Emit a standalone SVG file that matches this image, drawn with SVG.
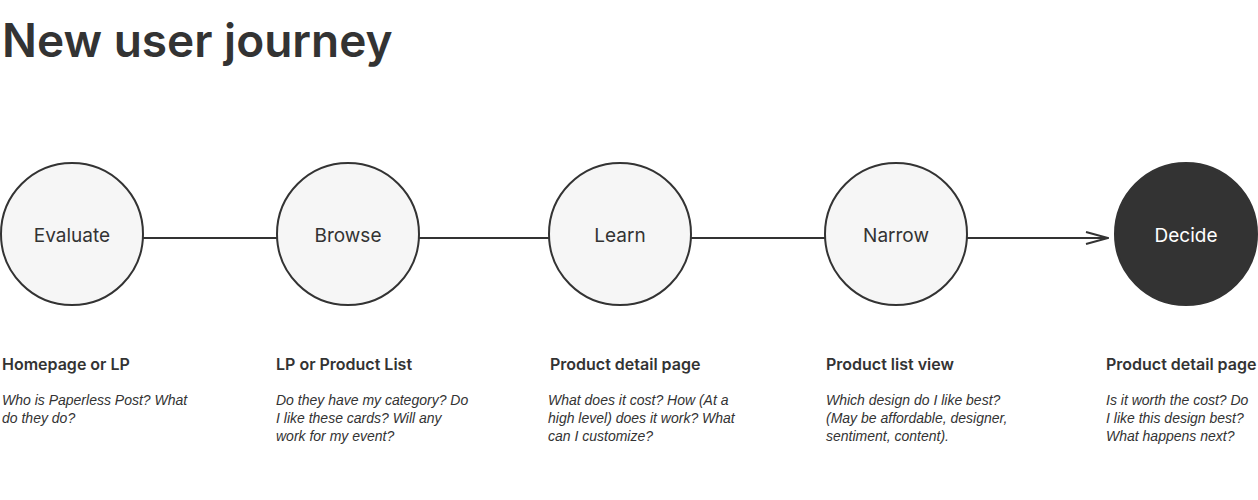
<svg xmlns="http://www.w3.org/2000/svg" width="1258" height="500" viewBox="0 0 1258 500">
<defs>
<style>
.title{font-family:Inter,"Liberation Sans",sans-serif;font-weight:600;font-size:46px;fill:#333}
.node{fill:#f6f6f6;stroke:#333;stroke-width:2}
.dark{fill:#333;stroke:#333;stroke-width:2}
.lbl{font-family:Inter,"Liberation Sans",sans-serif;font-size:19px;fill:#333;text-anchor:middle}
.lblw{fill:#fff}
.h{font-family:Inter,"Liberation Sans",sans-serif;font-weight:600;font-size:16px;fill:#333}
.d{font-family:"Liberation Sans",Arial,sans-serif;font-style:italic;font-size:14px;fill:#333}
.conn{stroke:#333;stroke-width:2;fill:none}
</style>
<marker id="arr" viewBox="0 0 24 14" refX="23" refY="7" markerWidth="24" markerHeight="14" markerUnits="userSpaceOnUse" orient="auto">
<path d="M1,1 L23,7 L1,13" fill="none" stroke="#333" stroke-width="2"/>
</marker>
</defs>
<rect width="1258" height="500" fill="#fff"/>
<text class="title" x="2" y="57">New user journey</text>
<g id="connectors">
<line class="conn" x1="143" y1="238" x2="277" y2="238"/>
<line class="conn" x1="419" y1="238" x2="549" y2="238"/>
<line class="conn" x1="691" y1="238" x2="825" y2="238"/>
<line class="conn" x1="967" y1="238" x2="1108" y2="238" marker-end="url(#arr)"/>
</g>
<g id="evaluate">
<circle class="node" cx="72" cy="234" r="71"/>
<text class="lbl" x="72" y="242">Evaluate</text>
<text class="h" x="2" y="370">Homepage or LP</text>
<text class="d" x="2" y="405">Who is Paperless Post? What</text>
<text class="d" x="2" y="423">do they do?</text>
</g>
<g id="browse">
<circle class="node" cx="348" cy="234" r="71"/>
<text class="lbl" x="348" y="242">Browse</text>
<text class="h" x="276" y="370">LP or Product List</text>
<text class="d" x="276" y="405">Do they have my category? Do</text>
<text class="d" x="276" y="423">I like these cards? Will any</text>
<text class="d" x="276" y="441">work for my event?</text>
</g>
<g id="learn">
<circle class="node" cx="620" cy="234" r="71"/>
<text class="lbl" x="620" y="242">Learn</text>
<text class="h" x="550" y="370">Product detail page</text>
<text class="d" x="548" y="405">What does it cost? How (At a</text>
<text class="d" x="548" y="423">high level) does it work? What</text>
<text class="d" x="548" y="441">can I customize?</text>
</g>
<g id="narrow">
<circle class="node" cx="896" cy="234" r="71"/>
<text class="lbl" x="896" y="242">Narrow</text>
<text class="h" x="826" y="370">Product list view</text>
<text class="d" x="826" y="405">Which design do I like best?</text>
<text class="d" x="826" y="423">(May be affordable, designer,</text>
<text class="d" x="826" y="441">sentiment, content).</text>
</g>
<g id="decide">
<circle class="dark" cx="1186" cy="234" r="71"/>
<text class="lbl lblw" x="1186" y="242">Decide</text>
<text class="h" x="1106" y="370">Product detail page</text>
<text class="d" x="1106" y="405">Is it worth the cost? Do</text>
<text class="d" x="1106" y="423">I like this design best?</text>
<text class="d" x="1106" y="441">What happens next?</text>
</g>
</svg>
